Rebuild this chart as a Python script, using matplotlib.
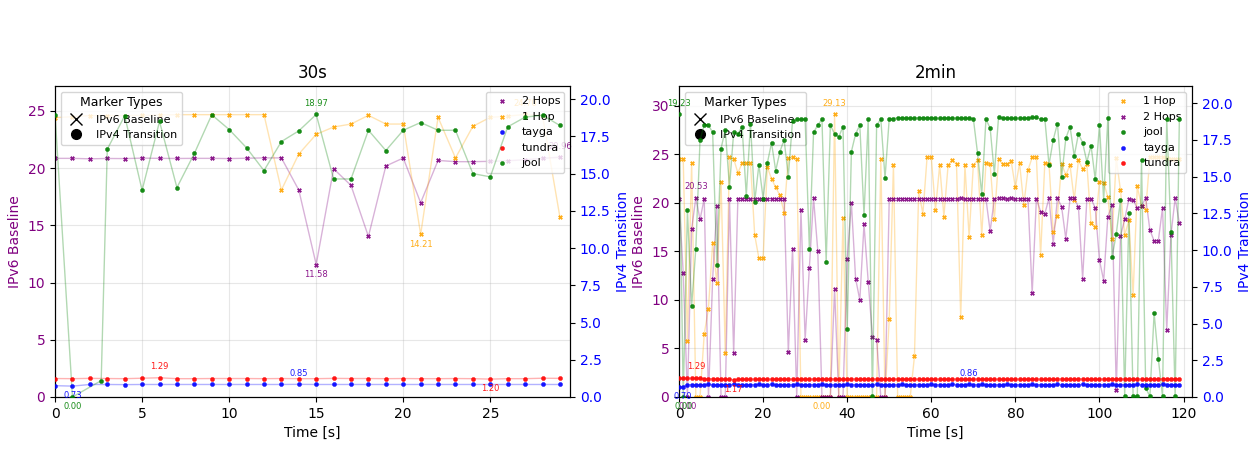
import matplotlib
matplotlib.use("Agg")
import matplotlib.pyplot as plt
from matplotlib.lines import Line2D

# ---------------- 30s panel data ----------------
time_30s = list(range(30))
time_30s_jool = [0, 1, 2.65] + list(range(3, 30))

hops2_30s = [20.86, 20.86, 20.82, 20.85, 20.84, 20.88, 20.86, 20.85, 20.86, 20.86,
             20.84, 20.87, 20.90, 20.90, 18.09, 11.58, 19.95, 18.49, 14.03, 20.19,
             20.89, 16.98, 20.68, 20.57, 20.57, 20.60, 20.65, 20.74, 20.86, 20.96]
hop1_30s = [24.42, 24.50, 24.60, 24.60, 24.60, 24.62, 24.65, 24.68, 24.68, 24.68,
            24.68, 24.68, 24.68, 18.09, 21.24, 22.96, 23.60, 23.86, 24.62, 23.86,
            23.86, 14.21, 24.45, 20.89, 23.66, 24.45, 24.55, 24.70, 24.60, 15.72]
tayga_30s = [0.76, 0.73, 0.84, 0.84, 0.83, 0.84, 0.84, 0.84, 0.84, 0.84,
             0.84, 0.84, 0.84, 0.84, 0.85, 0.84, 0.84, 0.84, 0.84, 0.84,
             0.84, 0.84, 0.84, 0.84, 0.84, 0.84, 0.84, 0.84, 0.84, 0.84]
tundra_30s = [1.24, 1.23, 1.25, 1.24, 1.23, 1.26, 1.29, 1.23, 1.23, 1.24,
              1.24, 1.24, 1.23, 1.24, 1.23, 1.23, 1.25, 1.24, 1.24, 1.23,
              1.24, 1.23, 1.23, 1.24, 1.23, 1.20, 1.23, 1.23, 1.26, 1.25]
jool_30s = [18.95, 0.00, 1.10, 16.64, 18.88, 13.88, 18.50, 14.06, 16.35, 18.95,
            17.96, 16.73, 15.20, 17.15, 17.87, 18.97, 14.64, 14.64, 17.91, 16.55,
            17.91, 18.43, 17.91, 17.91, 15.00, 14.78, 18.14, 18.79, 18.92, 18.23]

# ---------------- 2min panel data ----------------
time_2min = list(range(120))

hop1_2min = [24.55, 24.55, 5.8, 24.1, 0.05, 0.05, 6.5, 9.1, 15.9, 11.7,
             22.2, 4.5, 24.7, 24.55, 23.1, 24.1, 24.1, 24.1, 16.7, 14.3,
             14.3, 23.7, 22.5, 21.6, 20.8, 19.0, 24.6, 24.7, 24.5, 0.05,
             0.05, 0.05, 0.05, 0.05, 0.0, 0.05, 0.05, 29.13, 0.05, 18.4,
             0.05, 0.05, 0.05, 0.05, 0.05, 0.05, 0.05, 0.05, 24.55, 0.05,
             8.0, 23.9, 0.05, 0.05, 0.05, 0.05, 4.2, 21.2, 18.9, 24.7,
             24.7, 19.3, 23.9, 18.6, 23.9, 24.4, 24.0, 8.2, 23.9, 16.5,
             23.9, 24.4, 16.7, 24.1, 24.0, 18.3, 24.5, 24.0, 24.0, 24.3,
             21.6, 24.1, 19.8, 23.4, 24.7, 24.7, 14.6, 24.1, 24.0, 17.0,
             18.7, 24.0, 22.9, 23.9, 20.3, 24.4, 23.5, 24.0, 17.9, 17.5,
             22.2, 22.1, 20.6, 16.3, 24.6, 21.3, 16.7, 18.2, 10.5, 21.7,
             19.7, 19.3, 24.7, 24.7, 24.7, 24.7, 24.6, 24.5, 24.5, 24.5]
hops2_2min = [20.45, 12.8, 0.0, 17.3, 20.53, 18.3, 20.45, 0.0, 12.2, 19.7,
              0.0, 0.0, 20.45, 4.5, 20.45, 20.46, 20.45, 20.44, 20.45, 20.46,
              20.45, 20.44, 20.45, 20.46, 20.45, 20.45, 4.6, 15.3, 0.0, 19.3,
              5.9, 13.3, 20.5, 15.1, 0.0, 0.0, 0.0, 11.1, 0.0, 0.0,
              14.2, 20.0, 12.2, 10.0, 17.8, 11.9, 6.2, 5.9, 0.0, 0.0,
              20.42, 20.44, 20.45, 20.46, 20.45, 20.44, 20.45, 20.46, 20.45, 20.44,
              20.45, 20.46, 20.45, 20.44, 20.45, 20.46, 20.45, 20.47, 20.45, 20.44,
              20.45, 20.44, 20.43, 20.42, 17.1, 20.44, 20.47, 20.47, 20.46, 20.47,
              20.45, 20.44, 20.43, 20.42, 10.7, 20.45, 19.1, 18.9, 20.48, 15.8,
              20.5, 19.6, 16.3, 20.48, 20.48, 19.6, 12.2, 20.4, 20.4, 19.5,
              14.1, 12.0, 18.6, 19.8, 0.7, 16.6, 18.3, 20.4, 20.3, 19.5,
              19.7, 20.5, 17.2, 16.1, 16.1, 19.5, 6.9, 16.7, 20.5, 17.9]
jool_2min = [19.23, 0.0, 12.7, 6.2, 10.1, 17.5, 18.5, 18.5, 18.0, 9.0,
             16.9, 18.2, 14.3, 18.0, 17.9, 18.4, 13.7, 18.6, 13.3, 15.8,
             13.5, 15.9, 17.3, 15.4, 16.7, 17.5, 15.0, 18.8, 18.9, 18.9,
             18.9, 10.1, 18.0, 18.5, 18.9, 9.2, 18.5, 17.9, 17.7, 18.4,
             4.6, 16.7, 17.9, 18.5, 12.4, 18.9, 0.05, 18.5, 18.9, 14.9,
             18.95, 18.95, 19.0, 19.0, 18.98, 18.96, 18.97, 19.0, 19.0, 19.0,
             18.99, 18.97, 18.96, 19.0, 18.98, 18.98, 18.97, 18.98, 18.98, 18.97,
             18.95, 16.6, 13.8, 18.9, 18.3, 15.2, 19.05, 18.97, 18.96, 18.96,
             18.96, 18.98, 18.98, 18.98, 19.02, 19.02, 18.9, 18.95, 15.8, 17.5,
             18.6, 15.0, 17.6, 18.4, 16.4, 17.9, 17.3, 16.0, 17.1, 14.8,
             18.5, 13.4, 19.0, 9.5, 11.1, 13.4, 0.05, 12.5, 0.05, 0.05,
             16.1, 0.6, 0.05, 5.7, 2.6, 0.05, 18.9, 11.2, 0.05, 18.9]
tayga_2min = [0.71, 0.70, 0.83, 0.84, 0.84, 0.84, 0.84, 0.85, 0.84, 0.84,
              0.84, 0.84, 0.84, 0.85, 0.84, 0.84, 0.84, 0.84, 0.84, 0.85,
              0.84, 0.84, 0.85, 0.84, 0.84, 0.84, 0.84, 0.84, 0.85, 0.84,
              0.84, 0.84, 0.84, 0.84, 0.85, 0.84, 0.84, 0.84, 0.84, 0.84,
              0.85, 0.84, 0.84, 0.84, 0.84, 0.84, 0.84, 0.85, 0.84, 0.84,
              0.84, 0.84, 0.84, 0.85, 0.84, 0.84, 0.84, 0.84, 0.84, 0.84,
              0.85, 0.84, 0.84, 0.84, 0.84, 0.85, 0.84, 0.84, 0.84, 0.86,
              0.84, 0.84, 0.85, 0.84, 0.84, 0.84, 0.84, 0.84, 0.85, 0.84,
              0.84, 0.84, 0.84, 0.84, 0.85, 0.84, 0.84, 0.84, 0.84, 0.84,
              0.85, 0.84, 0.84, 0.84, 0.84, 0.84, 0.85, 0.84, 0.84, 0.84,
              0.84, 0.84, 0.84, 0.85, 0.84, 0.84, 0.84, 0.84, 0.84, 0.85,
              0.84, 0.84, 0.84, 0.84, 0.84, 0.85, 0.84, 0.84, 0.84, 0.84]
tundra_2min = [1.26, 1.27, 1.26, 1.27, 1.29, 1.26, 1.25, 1.24, 1.23, 1.22,
               1.22, 1.21, 1.20, 1.17, 1.20, 1.21, 1.21, 1.20, 1.21, 1.21,
               1.22, 1.21, 1.21, 1.22, 1.21, 1.22, 1.22, 1.21, 1.21, 1.22,
               1.22, 1.21, 1.22, 1.23, 1.22, 1.22, 1.23, 1.22, 1.22, 1.21,
               1.22, 1.23, 1.22, 1.22, 1.23, 1.22, 1.21, 1.22, 1.22, 1.22,
               1.21, 1.22, 1.22, 1.21, 1.22, 1.22, 1.21, 1.21, 1.22, 1.22,
               1.21, 1.22, 1.21, 1.21, 1.22, 1.21, 1.21, 1.22, 1.21, 1.21,
               1.21, 1.22, 1.21, 1.22, 1.21, 1.21, 1.21, 1.22, 1.21, 1.21,
               1.22, 1.21, 1.21, 1.22, 1.21, 1.22, 1.21, 1.21, 1.22, 1.21,
               1.22, 1.23, 1.22, 1.22, 1.22, 1.23, 1.22, 1.21, 1.22, 1.22,
               1.22, 1.22, 1.23, 1.22, 1.23, 1.22, 1.22, 1.23, 1.22, 1.22,
               1.22, 1.21, 1.22, 1.22, 1.23, 1.24, 1.24, 1.23, 1.24, 1.23]

COLORS = {"2 Hops": "purple", "1 Hop": "orange", "tayga": "blue",
          "tundra": "red", "jool": "green"}


def annotate_extremes(ax, x, y, color):
    imax = max(range(len(y)), key=lambda i: (y[i], -i))
    imin = min(range(len(y)), key=lambda i: (y[i], i))
    ax.annotate(f"{y[imax]:.2f}", (x[imax], y[imax]), xytext=(0, 8),
                textcoords="offset points", ha="center", va="center",
                fontsize=6, color=color, alpha=0.9)
    ax.annotate(f"{y[imin]:.2f}", (x[imin], y[imin]), xytext=(0, -7),
                textcoords="offset points", ha="center", va="center",
                fontsize=6, color=color, alpha=0.9)


def draw_panel(ax, title, v6_series, v4_series, order, xlim, ylim1, ylim2):
    ax2 = ax.twinx()
    handles = {}
    for name, x, y in v6_series:
        c = COLORS[name]
        ax.plot(x, y, color=c, alpha=0.3, lw=1, zorder=2)
        handles[name] = ax.scatter(x, y, color=c, marker="X", s=9,
                                   linewidths=0.3, alpha=0.9,
                                   label=name, zorder=3)
        annotate_extremes(ax, x, y, c)
    for name, x, y in v4_series:
        c = COLORS[name]
        ax2.plot(x, y, color=c, alpha=0.3, lw=1, zorder=2)
        handles[name] = ax2.scatter(x, y, color=c, marker="o", s=9,
                                    linewidths=0.3, alpha=0.9,
                                    label=name, zorder=3)
        annotate_extremes(ax2, x, y, c)

    ax.set_xlim(*xlim)
    ax.set_ylim(*ylim1)
    ax2.set_ylim(*ylim2)
    ax.set_title(title)
    ax.set_xlabel("Time [s]")
    ax.set_ylabel("IPv6 Baseline", color="purple")
    ax2.set_ylabel("IPv4 Transition", color="blue")
    ax.tick_params(axis="y", labelcolor="purple")
    ax2.tick_params(axis="y", labelcolor="blue")
    ax.grid(True, alpha=0.3)

    marker_handles = [
        Line2D([0], [0], marker="x", color="black", linestyle="None",
               markersize=8, label="IPv6 Baseline"),
        Line2D([0], [0], marker="o", color="black", linestyle="None",
               markersize=7, label="IPv4 Transition"),
    ]
    leg1 = ax.legend(handles=marker_handles, loc="upper left",
                     title="Marker Types", fontsize=8, title_fontsize=9)
    ax.add_artist(leg1)
    ax.legend(handles=[handles[n] for n in order], loc="upper right",
              fontsize=8)


fig = plt.figure(figsize=(12.6, 4.5), dpi=100)
ax_30 = fig.add_axes([0.0437, 0.1178, 0.4087, 0.6907])
ax_2m = fig.add_axes([0.5389, 0.1178, 0.4071, 0.6907])

draw_panel(ax_30, "30s",
           [("2 Hops", time_30s, hops2_30s), ("1 Hop", time_30s, hop1_30s)],
           [("tayga", time_30s, tayga_30s), ("tundra", time_30s, tundra_30s),
            ("jool", time_30s_jool, jool_30s)],
           ["2 Hops", "1 Hop", "tayga", "tundra", "jool"],
           (0, 29.58), (0, 27.17), (0, 20.87))

draw_panel(ax_2m, "2min",
           [("1 Hop", time_2min, hop1_2min), ("2 Hops", time_2min, hops2_2min)],
           [("jool", time_2min, jool_2min), ("tayga", time_2min, tayga_2min),
            ("tundra", time_2min, tundra_2min)],
           ["1 Hop", "2 Hops", "jool", "tayga", "tundra"],
           (0, 122.0), (0, 32.04), (0, 21.15))

fig.savefig("out.png", dpi=100)
